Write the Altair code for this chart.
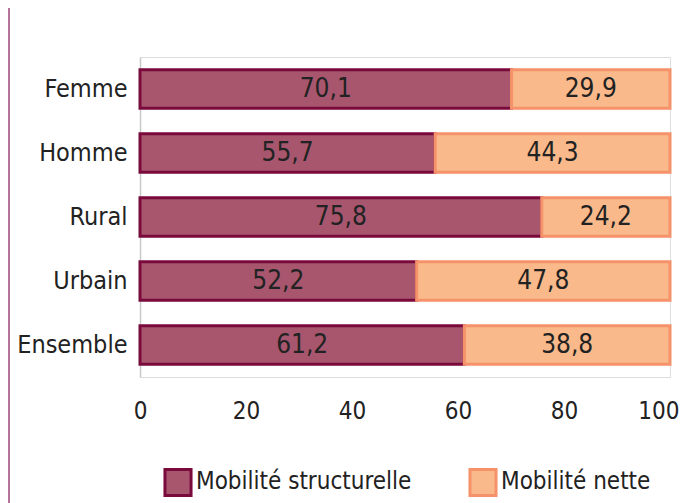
import altair as alt
import pandas as pd

categories = ["Femme", "Homme", "Rural", "Urbain", "Ensemble"]
structurelle = [70.1, 55.7, 75.8, 52.2, 61.2]
nette = [29.9, 44.3, 24.2, 47.8, 38.8]
series = ["Mobilité structurelle", "Mobilité nette"]
x_ticks = [0, 20, 40, 60, 80, 100]

rows = []
for c, s, n in zip(categories, structurelle, nette):
    rows.append({"cat": c, "serie": series[0], "ord": 0, "value": s,
                 "label": f"{s:.1f}".replace(".", ",")})
    rows.append({"cat": c, "serie": series[1], "ord": 1, "value": n,
                 "label": f"{n:.1f}".replace(".", ",")})
df = pd.DataFrame(rows)

FONT = "DejaVu Sans Condensed, sans-serif"

base = alt.Chart(df).transform_stack(
    stack="value", groupby=["cat"], as_=["v0", "v1"],
    sort=[alt.SortField("ord", order="ascending")]
).transform_calculate(mid="(datum.v0 + datum.v1) / 2")

y_enc = alt.Y("cat:N", sort=categories, title=None,
              scale=alt.Scale(paddingInner=0.4, paddingOuter=0.2),
              axis=alt.Axis(labelFont=FONT, labelFontSize=25, labelColor="#222",
                            labelPadding=13, ticks=False, domain=True,
                            domainColor="#c8c8c8", domainWidth=1.5))
x_scale = alt.Scale(domain=[0, 100], nice=False)

legend = alt.Legend(title=None, orient="none", legendX=23, legendY=410,
                    direction="horizontal", symbolType="square",
                    symbolSize=680, symbolStrokeWidth=3,
                    labelFont=FONT, labelFontSize=24, labelColor="#222",
                    labelLimit=0, labelOffset=3, columnPadding=51)

bars = base.mark_bar(strokeWidth=3, strokeJoin="miter").encode(
    x=alt.X("v0:Q", scale=x_scale, title=None,
            axis=alt.Axis(values=x_ticks, labelFont=FONT, labelFontSize=24,
                          labelColor="#222", labelPadding=22, ticks=False,
                          labelFlush=False, domain=False, grid=False,
                          labelAlign=alt.ExprRef(expr="datum.value == 100 ? 'right' : 'center'"),
                          labelOffset=alt.ExprRef(expr="datum.value == 100 ? 9 : 0"))),
    x2="v1:Q",
    y=y_enc,
    fill=alt.Fill("serie:N", scale=alt.Scale(domain=series, range=["#a8566e", "#f9b98a"]),
                  legend=legend),
    stroke=alt.Stroke("serie:N", scale=alt.Scale(domain=series, range=["#7a0a3c", "#f5926a"]),
                      legend=legend),
)

texts = base.mark_text(font=FONT, fontSize=26, color="#222", baseline="middle").encode(
    x=alt.X("mid:Q", scale=x_scale),
    y=alt.Y("cat:N", sort=categories),
    text="label:N",
)

border = alt.Chart(pd.DataFrame({"k": [0]})).mark_rule(color="#b5739a", strokeWidth=2).encode(
    x=alt.value(-131), y=alt.value(-49), y2=alt.value(450)
)

chart = alt.layer(border, bars, texts).properties(
    width=530, height=320,
    autosize=alt.AutoSizeParams(type="none"),
    padding={"left": 132, "top": 49, "right": 10, "bottom": 126},
).configure_view(strokeWidth=0, stroke="transparent").configure(background="white")

chart.save("out.html", embed_options={"renderer": "svg", "actions": False})
